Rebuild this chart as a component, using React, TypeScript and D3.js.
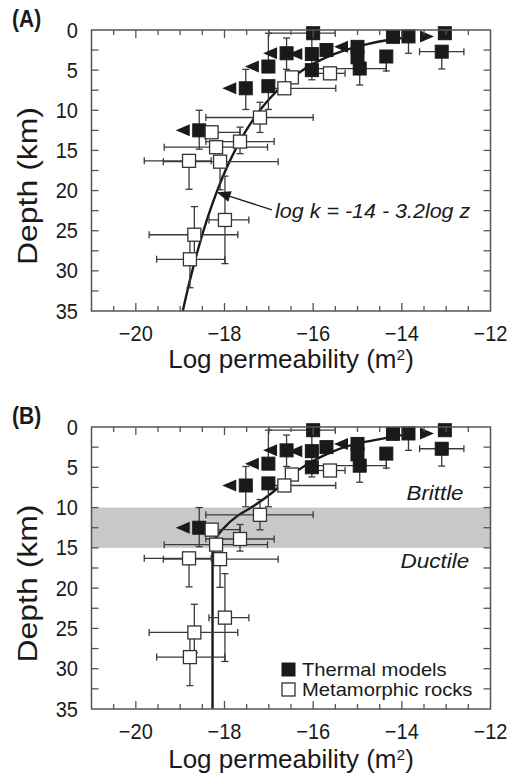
import React from 'react';
import * as d3 from 'd3';

const W = 512;
const H = 774;
const K_DOMAIN = [-21, -12];
const Z_DOMAIN = [0, 35];
const xTickLabels = [-20, -18, -16, -14, -12];
const yTickLabels = [0, 5, 10, 15, 20, 25, 30, 35];

// Thermal models (filled squares). k = log permeability, z = depth (km)
const thermalModels = [
  { k: -16.0, z: 0.4, kLo: -17.0, kHi: -15.5 },
  { k: -16.6, z: 2.9, zLo: 1.0, zHi: 4.9, arrow: 'L' },
  { k: -16.03, z: 3.0, arrow: 'L' },
  { k: -15.7, z: 2.5 },
  { k: -15.0, z: 2.1, arrow: 'L' },
  { k: -15.0, z: 3.4 },
  { k: -14.95, z: 4.8, kLo: -16.0, kHi: -14.35, zLo: 3.5, zHi: 6.85 },
  { k: -14.2, z: 0.85 },
  { k: -13.85, z: 0.8, zLo: 0.8, zHi: 2.9, arrow: 'R' },
  { k: -14.35, z: 3.3, zLo: 3.3, zHi: 5.1 },
  { k: -13.03, z: 0.4 },
  { k: -13.1, z: 2.7, kLo: -13.6, kHi: -12.6, zLo: 2.0, zHi: 4.85 },
  { k: -17.01, z: 4.55, zLo: 0.4, zHi: 4.55, arrow: 'L' },
  { k: -16.03, z: 5.0, zLo: 0.4, zHi: 6.2 },
  { k: -17.52, z: 7.26, zLo: 4.9, zHi: 9.9, arrow: 'L' },
  { k: -17.01, z: 7.0, zLo: 7.0, zHi: 9.9 },
  { k: -18.57, z: 12.5, zLo: 10.0, zHi: 14.85, arrow: 'L' },
];

// Metamorphic rocks (open squares)
const metamorphicRocks = [
  { k: -16.48, z: 5.9 },
  { k: -15.62, z: 5.4, kLo: -15.9, kHi: -15.28 },
  { k: -16.65, z: 7.26, kLo: -17.0, kHi: -15.49 },
  { k: -17.2, z: 10.9, kLo: -18.42, kHi: -16.0, zLo: 9.0, zHi: 12.76 },
  { k: -18.29, z: 12.74, kLo: -18.6, kHi: -17.65 },
  { k: -17.65, z: 13.9, kLo: -18.42, kHi: -16.88, zLo: 12.1, zHi: 15.4 },
  { k: -18.19, z: 14.6, kLo: -19.36, kHi: -17.03 },
  { k: -18.8, z: 16.3, kLo: -19.81, kHi: -18.3, zLo: 16.3, zHi: 19.84 },
  { k: -18.1, z: 16.4, kLo: -19.38, kHi: -16.79, zLo: 16.4, zHi: 19.9 },
  { k: -17.99, z: 23.66, kLo: -18.35, kHi: -17.45, zLo: 18.2, zHi: 29.1 },
  { k: -18.68, z: 25.5, kLo: -19.7, kHi: -17.7, zLo: 22.0, zHi: 28.0 },
  { k: -18.78, z: 28.56, kLo: -19.53, kHi: -17.99, zLo: 25.5, zHi: 32.1 },
];

// Panel A curve: log k = -14 - 3.2 log z
const FIT_A = -14;
const FIT_B = -3.2;
const fitDepths = d3.range(1, 35.001, 0.25);

// Panel B curve
const curveBDepth = [1, 2, 4, 6, 8, 10, 11, 12.8, 14.7, 35];
const curveBK = [-14.0, -14.96, -15.93, -16.49, -16.89, -17.4, -17.7, -18.06, -18.27, -18.27];

// Brittle-ductile band (km)
const bandDepths = [10, 15];

const FONT = "'Liberation Sans', Arial, Helvetica, sans-serif";
const INK = '#1a1a1a';
const AXIS = '#555';
const BAR = '#3a3a3a';
const SQ = 13;

const x = d3.scaleLinear().domain(K_DOMAIN).range([91.5, 490.5]);

function ErrorBars({ d, y }) {
  const cx = x(d.k);
  const cy = y(d.z);
  const cap = 3.5;
  const els = [];
  if (d.kLo !== undefined) {
    const a = x(d.kLo), b = x(d.kHi);
    els.push(<line key="h" x1={a} x2={b} y1={cy} y2={cy} />);
    if (d.kLo !== d.k) els.push(<line key="hc1" x1={a} x2={a} y1={cy - cap} y2={cy + cap} />);
    if (d.kHi !== d.k) els.push(<line key="hc2" x1={b} x2={b} y1={cy - cap} y2={cy + cap} />);
  }
  if (d.zLo !== undefined) {
    const a = y(d.zLo), b = y(d.zHi);
    els.push(<line key="v" x1={cx} x2={cx} y1={a} y2={b} />);
    if (d.zLo !== d.z) els.push(<line key="vc1" x1={cx - cap} x2={cx + cap} y1={a} y2={a} />);
    if (d.zHi !== d.z) els.push(<line key="vc2" x1={cx - cap} x2={cx + cap} y1={b} y2={b} />);
  }
  return <g stroke={BAR} strokeWidth={1.3}>{els}</g>;
}

function Arrow({ d, y }) {
  if (!d.arrow) return null;
  const cx = x(d.k);
  const cy = y(d.z);
  const gap = 3, len = 14, hh = 6;
  if (d.arrow === 'L') {
    const base = cx - SQ / 2 - gap;
    const tip = base - len;
    return <polygon points={`${base},${cy - hh} ${base},${cy + hh} ${tip},${cy}`} fill={INK} />;
  }
  const base = cx + SQ / 2 + gap + 2;
  const tip = base + len;
  return <polygon points={`${base},${cy - hh} ${base},${cy + hh} ${tip},${cy}`} fill={INK} />;
}

function Txt({ x: tx, y: ty, size, children, anchor = 'start', sy = 1, italic = false, bold = false }) {
  return (
    <text
      transform={`translate(${tx},${ty}) scale(1,${sy})`}
      fontSize={size}
      fontFamily={FONT}
      textAnchor={anchor}
      fill={INK}
      fontStyle={italic ? 'italic' : 'normal'}
      fontWeight={bold ? 'bold' : 'normal'}
    >
      {children}
    </text>
  );
}

function Panel({ top, bottom, label, variant }) {
  const y = d3.scaleLinear().domain(Z_DOMAIN).range([top, bottom]);
  const [x0, x1] = x.range();
  const minorX = d3.range(-20.5, -12, 0.5).filter((v) => v % 2 !== 0);
  const majorX = [-20, -18, -16, -14];
  const yTicks = d3.range(2.5, 35, 2.5);

  let curvePath;
  if (variant === 'A') {
    const line = d3.line().x((z) => x(FIT_A + FIT_B * Math.log10(z))).y((z) => y(z));
    curvePath = line(fitDepths);
  } else {
    const pts = curveBDepth.map((z, i) => [curveBK[i], z]);
    const line = d3.line().x((p) => x(p[0])).y((p) => y(p[1])).curve(d3.curveMonotoneY);
    curvePath = line(pts);
  }

  // annotation arrow (panel A)
  let annot = null;
  if (variant === 'A') {
    const tipZ = 20.2;
    const tipK = FIT_A + FIT_B * Math.log10(tipZ);
    const tx = x(tipK), ty = y(tipZ);
    const sx = x(-16.93), sy = y(22.4);
    const ang = Math.atan2(sy - ty, sx - tx);
    const L = 14, hw = 5.5;
    const bx = tx + L * Math.cos(ang), by = ty + L * Math.sin(ang);
    const px = -Math.sin(ang) * hw, py = Math.cos(ang) * hw;
    annot = (
      <g>
        <line x1={sx} y1={sy} x2={bx} y2={by} stroke={INK} strokeWidth={1.3} />
        <polygon points={`${tx},${ty} ${bx + px},${by + py} ${bx - px},${by - py}`} fill={INK} />
        <Txt x={x(-16.86)} y={y(23.4)} size={21.5} italic sy={0.92}>log k = -14 - 3.2log z</Txt>
      </g>
    );
  }

  const yTitleCenter = (top + bottom) / 2 + 15.5;

  return (
    <g>
      {variant === 'B' && (
        <rect x={x0} width={x1 - x0} y={y(bandDepths[0])} height={y(bandDepths[1]) - y(bandDepths[0])} fill="#c8c8c8" />
      )}
      <path d={curvePath} fill="none" stroke={INK} strokeWidth={2.4} />
      {thermalModels.map((d, i) => <ErrorBars key={'te' + i} d={d} y={y} />)}
      {metamorphicRocks.map((d, i) => <ErrorBars key={'me' + i} d={d} y={y} />)}
      {thermalModels.map((d, i) => (
        <g key={'t' + i}>
          <Arrow d={d} y={y} />
          <rect x={x(d.k) - SQ / 2} y={y(d.z) - SQ / 2} width={SQ} height={SQ} fill={INK} stroke={INK} strokeWidth={1} />
        </g>
      ))}
      {metamorphicRocks.map((d, i) => (
        <rect key={'m' + i} x={x(d.k) - SQ / 2} y={y(d.z) - SQ / 2} width={SQ} height={SQ} fill="#fff" stroke="#333" strokeWidth={1.3} />
      ))}
      {annot}
      {variant === 'B' && (
        <g>
          <Txt x={435} y={y(9.1)} size={22.3} italic anchor="middle" sy={0.92}>Brittle</Txt>
          <Txt x={435} y={y(17.5)} size={22.5} italic anchor="middle" sy={0.92}>Ductile</Txt>
          <rect x={282} y={663} width={SQ} height={SQ} fill={INK} stroke={INK} />
          <rect x={282} y={683} width={SQ} height={SQ} fill="#fff" stroke="#333" strokeWidth={1.3} />
          <Txt x={302} y={676} size={20.2} sy={0.92}>Thermal models</Txt>
          <Txt x={302} y={696} size={20.2} sy={0.92}>Metamorphic rocks</Txt>
        </g>
      )}
      {/* frame */}
      <rect x={x0} y={top} width={x1 - x0} height={bottom - top} fill="none" stroke={AXIS} strokeWidth={1.5} />
      <g stroke={AXIS} strokeWidth={1.3}>
        {minorX.map((v) => (
          <g key={'mx' + v}>
            <line x1={x(v)} x2={x(v)} y1={bottom} y2={bottom - 5} />
            <line x1={x(v)} x2={x(v)} y1={top} y2={top + 5} />
          </g>
        ))}
        {majorX.map((v) => (
          <g key={'Mx' + v}>
            <line x1={x(v)} x2={x(v)} y1={bottom} y2={bottom - 8} />
            <line x1={x(v)} x2={x(v)} y1={top} y2={top + 8} />
          </g>
        ))}
        {yTicks.map((v) => (
          <g key={'y' + v}>
            <line x1={x0} x2={x0 + 7} y1={y(v)} y2={y(v)} />
            <line x1={x1} x2={x1 - 7} y1={y(v)} y2={y(v)} />
          </g>
        ))}
      </g>
      {xTickLabels.map((v) => (
        <Txt key={'xl' + v} x={x(v)} y={bottom + 30} size={20} anchor="middle" sy={1.1}>
          {'\u2212' + Math.abs(v)}
        </Txt>
      ))}
      {yTickLabels.map((v) => (
        <Txt key={'yl' + v} x={78} y={y(v) + 7.5} size={20} anchor="end" sy={1.1}>
          {String(v)}
        </Txt>
      ))}
      <text
        transform={`translate(37,${yTitleCenter}) rotate(-90)`}
        fontSize={27}
        fontFamily={FONT}
        textAnchor="middle"
        fill={INK}
        textLength={158}
        lengthAdjust="spacingAndGlyphs"
      >
        Depth (km)
      </text>
      <text
        transform={`translate(${(x0 + x1) / 2},${variant === 'A' ? 368 : 768})`}
        fontSize={26}
        fontFamily={FONT}
        textAnchor="middle"
        fill={INK}
      >
        Log permeability (m<tspan fontSize={15.5} dy={-8.5}>2</tspan>
        <tspan dy={8.5}>)</tspan>
      </text>
      <Txt x={12} y={top - 3} size={21} bold sy={1.1}>{label}</Txt>
    </g>
  );
}

export default function App() {
  return (
    <svg
      width={W}
      height={H}
      viewBox={`0 0 ${W} ${H}`}
      style={{ position: 'absolute', left: 0, top: 0, display: 'block', background: '#fff' }}
    >
      <rect width={W} height={H} fill="#fff" />
      <Panel top={30} bottom={311} label="(A)" variant="A" />
      <Panel top={427} bottom={709} label="(B)" variant="B" />
    </svg>
  );
}
